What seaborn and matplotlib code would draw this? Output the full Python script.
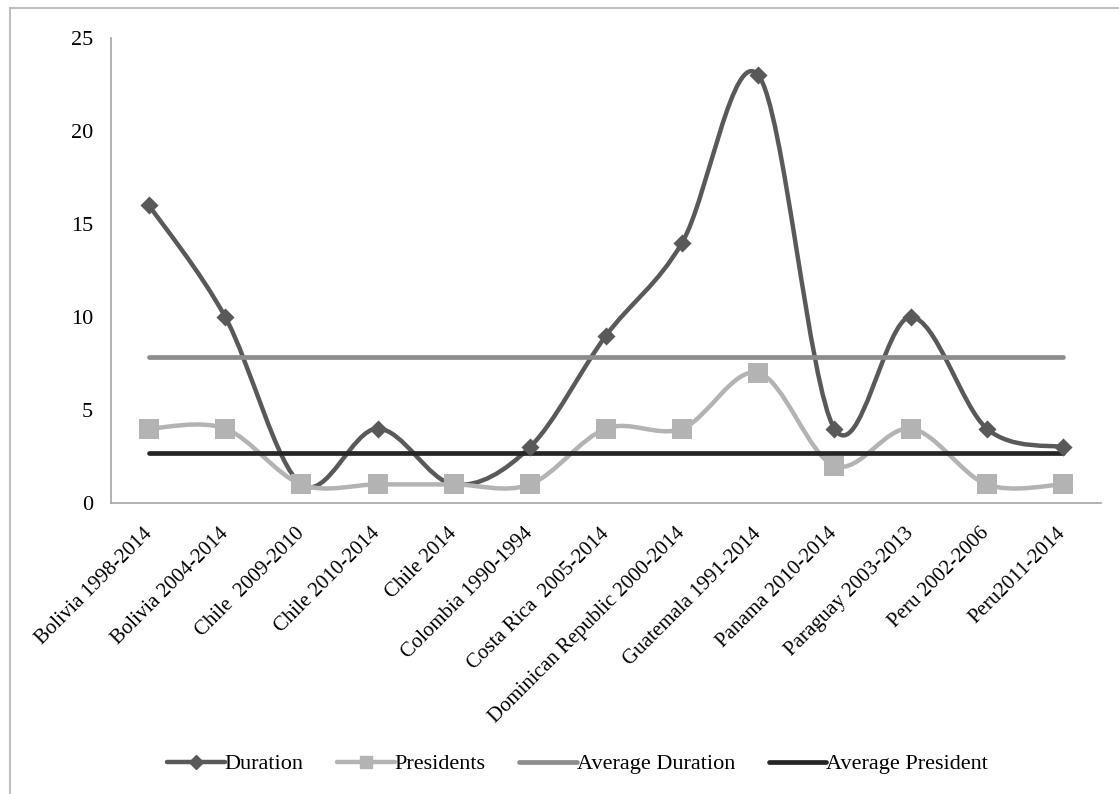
import numpy as np
import seaborn as sns
import matplotlib.pyplot as plt
from matplotlib.path import Path
from matplotlib.patches import PathPatch, Rectangle
from matplotlib.lines import Line2D

cases = ['Bolivia 1998-2014', 'Bolivia 2004-2014', 'Chile  2009-2010',
         'Chile 2010-2014', 'Chile 2014', 'Colombia 1990-1994',
         'Costa Rica  2005-2014', 'Dominican Republic 2000-2014',
         'Guatemala 1991-2014', 'Panama 2010-2014', 'Paraguay 2003-2013',
         'Peru 2002-2006', 'Peru2011-2014']
duration = [16, 10, 1, 4, 1, 3, 9, 14, 23, 4, 10, 4, 3]
presidents = [4, 4, 1, 1, 1, 1, 4, 4, 7, 2, 4, 1, 1]
avg_duration = 7.85
avg_president = 2.69

c_dur = '#595959'
c_pres = '#b3b3b3'
c_avgd = '#8c8c8c'
c_avgp = '#262626'

sns.set_style('white')
plt.rcParams['font.family'] = ['Liberation Serif', 'DejaVu Serif']
plt.rcParams['text.color'] = 'black'
plt.rcParams['xtick.color'] = 'black'
plt.rcParams['ytick.color'] = 'black'

fig = plt.figure(figsize=(11.19, 7.94), dpi=100)
ax = fig.add_axes([111 / 1119, 1 - 503 / 794, 990 / 1119, 465 / 794])

xs = np.arange(len(cases))


def smooth_path(x, y):
    # Excel-style smoothed line: Catmull-Rom turned into cubic Bezier segments
    pts = np.column_stack([x, y]).astype(float)
    ext = np.vstack([pts[0], pts, pts[-1]])
    verts = [pts[0]]
    codes = [Path.MOVETO]
    for i in range(1, len(ext) - 2):
        p0, p1, p2, p3 = ext[i - 1], ext[i], ext[i + 1], ext[i + 2]
        verts += [p1 + (p2 - p0) / 6, p2 - (p3 - p1) / 6, p2]
        codes += [Path.CURVE4] * 3
    return Path(verts, codes)


ax.add_patch(PathPatch(smooth_path(xs, duration), fill=False,
                       edgecolor=c_dur, lw=3.2, capstyle='round', zorder=2))
ax.add_patch(PathPatch(smooth_path(xs, presidents), fill=False,
                       edgecolor=c_pres, lw=3.2, capstyle='round', zorder=3))
sns.lineplot(x=xs, y=[avg_duration] * len(xs), color=c_avgd, lw=3.4,
             ax=ax, zorder=4, solid_capstyle='round')
sns.lineplot(x=xs, y=[avg_president] * len(xs), color=c_avgp, lw=3.4,
             ax=ax, zorder=5, solid_capstyle='round')
sns.scatterplot(x=xs, y=duration, marker='D', s=85, color=c_dur,
                edgecolor=c_dur, linewidth=0, ax=ax, zorder=6)
sns.scatterplot(x=xs, y=presidents, marker='s', s=200, color=c_pres,
                edgecolor=c_pres, linewidth=0, ax=ax, zorder=7)

ax.set_xlim(-0.5, len(cases) - 0.5)
ax.set_ylim(0, 25)
ax.set_yticks([0, 5, 10, 15, 20, 25])
ax.set_xticks(xs)
ax.set_xticklabels(cases, rotation=45, ha='right', va='center',
                   rotation_mode='anchor', fontsize=15)
ax.tick_params(axis='y', labelsize=16, length=0, pad=13)
ax.tick_params(axis='x', length=0, pad=20)
for side in ['top', 'right']:
    ax.spines[side].set_visible(False)
for side in ['left', 'bottom']:
    ax.spines[side].set_color('#a6a6a6')
    ax.spines[side].set_linewidth(1.2)

handles = [
    Line2D([], [], color=c_dur, lw=3.2, marker='D', markersize=7),
    Line2D([], [], color=c_pres, lw=3.2, marker='s', markersize=9),
    Line2D([], [], color=c_avgd, lw=3.4),
    Line2D([], [], color=c_avgp, lw=3.4),
]
fig.legend(handles, ['Duration', 'Presidents', 'Average Duration',
                     'Average President'],
           loc='center', bbox_to_anchor=(0.5 + 18 / 1119, 1 - 764 / 794),
           ncol=4, frameon=False, fontsize=16, handlelength=2.6,
           handletextpad=0.0, columnspacing=1.5)

fig.add_artist(Rectangle((10 / 1119, -0.02), 1.0, 1 - 8 / 794 + 0.02,
                         transform=fig.transFigure, fill=False,
                         edgecolor='#bfbfbf', lw=1.5))

fig.savefig('out.png', dpi=100)
